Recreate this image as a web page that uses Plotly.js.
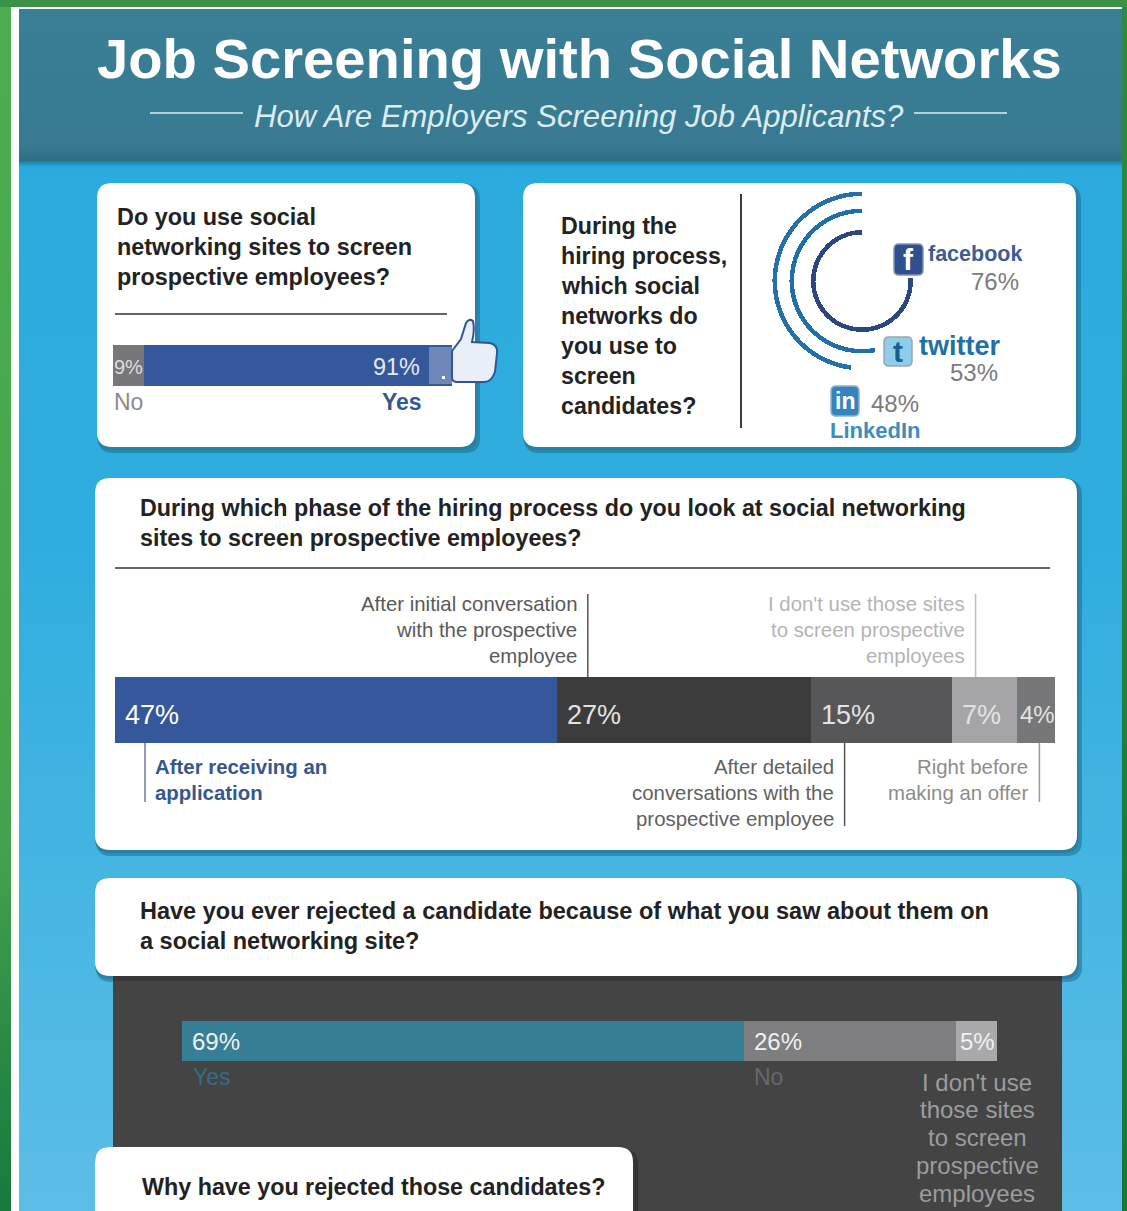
<!DOCTYPE html>
<html>
<head>
<meta charset="utf-8">
<title>Job Screening with Social Networks</title>
<script src="https://cdn.plot.ly/plotly-3.0.1.min.js"></script>
<style>html,body{margin:0;padding:0;background:#2aabdd;overflow:hidden}</style>
</head>
<body>
<div id="chart" style="width:1127px;height:1211px"></div>
<script>
// Survey answers
const useLabels = ['No', 'Yes'];
const useValues = [9, 91];

const networkNames = ['facebook', 'twitter', 'LinkedIn'];
const networkValues = [76, 53, 48];

const phaseLabels = ['After receiving an application', 'After initial conversation', 'After detailed conversations', "I don't use those sites", 'Right before making an offer'];
const phaseValues = [47, 27, 15, 7, 4];

const rejectLabels = ['Yes', 'No', "I don't use those sites"];
const rejectValues = [69, 26, 5];

// Page geometry helpers: pixel positions to paper fractions
const W = 1127, H = 1211;
const px = x => x / W;
const py = y => 1 - y / H;
const BOLD = '"Liberation Sans", Arial, sans-serif';
const cumulative = v => v.map((_, i) => v.slice(0, i).reduce((a, b) => a + b, 0));

const shapes = [];
const annotations = [];

function rect(x0, y0, x1, y1, fill, layer) {
  shapes.push({type: 'rect', xref: 'paper', yref: 'paper', x0: px(x0), x1: px(x1), y0: py(y1), y1: py(y0),
    fillcolor: fill, line: {width: 0}, layer: layer || 'below'});
}
function line(x0, y0, x1, y1, color, width) {
  shapes.push({type: 'line', xref: 'paper', yref: 'paper', x0: px(x0), x1: px(x1), y0: py(y0), y1: py(y1),
    line: {color, width}, layer: 'below'});
}
function pathFrom(points, close) {
  return points.map((p, i) => {
    if (p.length === 2) return (i ? 'L' : 'M') + px(p[0]) + ',' + py(p[1]);
    return 'Q' + px(p[0]) + ',' + py(p[1]) + ' ' + px(p[2]) + ',' + py(p[3]);
  }).join(' ') + (close ? ' Z' : '');
}
function roundRect(x0, y0, x1, y1, r) {
  return pathFrom([[x0 + r, y0], [x1 - r, y0], [x1, y0, x1, y0 + r], [x1, y1 - r], [x1, y1, x1 - r, y1],
    [x0 + r, y1], [x0, y1, x0, y1 - r], [x0, y0 + r], [x0, y0, x0 + r, y0]], true);
}
function cardShadow(x0, y0, x1, y1, soft, hard) {
  const r = 15;
  shapes.push({type: 'path', xref: 'paper', yref: 'paper', path: roundRect(x0 + 1, y0 + 2, x1 + 5, y1 + 6, r),
    fillcolor: soft, line: {width: 0}, layer: 'below'});
  shapes.push({type: 'path', xref: 'paper', yref: 'paper', path: roundRect(x0, y0, x1 + 2, y1 + 3, r),
    fillcolor: hard, line: {width: 0}, layer: 'below'});
}
function cardFace(x0, y0, x1, y1) {
  shapes.push({type: 'path', xref: 'paper', yref: 'paper', path: roundRect(x0, y0, x1, y1, 15),
    fillcolor: '#ffffff', line: {width: 0}, layer: 'below'});
}
function card(x0, y0, x1, y1) {
  cardShadow(x0, y0, x1, y1, 'rgba(20,95,130,0.45)', '#2c7f9e');
  cardFace(x0, y0, x1, y1);
}
function text(str, x, y, size, color, opts) {
  opts = opts || {};
  annotations.push({text: str, xref: 'paper', yref: 'paper', x: px(x), y: py(y), xanchor: opts.anchor || 'left', yanchor: 'middle',
    showarrow: false, borderpad: 0,
    font: {family: opts.family || BOLD, size, color, weight: opts.weight || 400, style: opts.style || 'normal'}});
}
function heading(lines, x, y, step, size) {
  lines.forEach((l, i) => text(l, x, y + i * step, size, '#222222', {weight: 700}));
}

// Backdrop: green page edge, white frame, blue panel and teal banner
const backdrop = `<svg xmlns="http://www.w3.org/2000/svg" width="${W}" height="${H}">
<defs>
<linearGradient id="g" x1="0" y1="0" x2="0" y2="1"><stop offset="0" stop-color="#4cae50"/><stop offset=".7" stop-color="#43a34c"/><stop offset=".85" stop-color="#2c8c46"/><stop offset="1" stop-color="#157a3c"/></linearGradient>
<linearGradient id="r" x1="0" y1="0" x2="0" y2="1"><stop offset="0" stop-color="#2c8c46"/><stop offset="1" stop-color="#17773c"/></linearGradient>
<linearGradient id="b" x1="0" y1="0" x2="0" y2="1"><stop offset="0" stop-color="#29aadd"/><stop offset=".45" stop-color="#2fadde"/><stop offset="1" stop-color="#5cbee6"/></linearGradient>
<linearGradient id="h" x1="0" y1="0" x2="0" y2="1"><stop offset="0" stop-color="#3a7f96"/><stop offset=".9" stop-color="#377a91"/><stop offset="1" stop-color="#2f6f86"/></linearGradient>
<linearGradient id="s" x1="0" y1="0" x2="0" y2="1"><stop offset="0" stop-color="#1f7da6"/><stop offset="1" stop-color="#29aadd"/></linearGradient>
</defs>
<rect width="${W}" height="${H}" fill="url(#r)"/>
<rect width="11" height="${H}" fill="url(#g)"/>
<rect width="${W}" height="7" fill="#3b9246"/>
<rect x="11" y="7" width="1111" height="${H - 7}" fill="#ffffff"/>
<rect x="19" y="9" width="1103" height="${H - 9}" fill="url(#b)"/>
<rect x="19" y="9" width="1103" height="152" fill="url(#h)"/>
<rect x="19" y="161" width="1103" height="6" fill="url(#s)"/>
</svg>`;

// Banner
text('Job Screening with Social Networks', 96, 58, 56.2, '#ffffff', {weight: 700});
text('How Are Employers Screening Job Applicants?', 253, 116, 31.1, '#dcecf1', {style: 'italic'});
line(150, 113, 243, 113, '#dcecf1', 1.5);
line(914, 113, 1007, 113, '#dcecf1', 1.5);

// White cards; the dark panel sits on the fourth card's shadow
card(97, 183, 475, 447);
card(523, 183, 1076, 447);
card(95, 478, 1077, 850);
cardShadow(95, 878, 1077, 976, 'rgba(20,95,130,0.45)', '#2c7f9e');
rect(113, 976, 1062, H, '#444445');
rect(113, 976, 1062, 981, '#39393a');
cardFace(95, 878, 1077, 976);
cardShadow(95, 1147, 633, 1260, 'rgba(30,30,30,0.4)', '#3a3a3b');
cardFace(95, 1147, 633, 1260);

// Card 1: do employers screen at all
heading(['Do you use social', 'networking sites to screen', 'prospective employees?'], 116, 217, 30, 23.4);
line(115, 314, 447, 314, '#666666', 2);

// Card 2: which networks
heading(['During the', 'hiring process,', 'which social', 'networks do', 'you use to', 'screen', 'candidates?'], 560, 226, 30, 23.2);
line(741, 194, 741, 428, '#3a3a3a', 2);

// Card 3 and 4 headings
heading(['During which phase of the hiring process do you look at social networking', 'sites to screen prospective employees?'], 139, 508, 30, 23.3);
line(115, 568, 1050, 568, '#666666', 2);
heading(['Have you ever rejected a candidate because of what you saw about them on', 'a social networking site?'], 139, 911, 30, 23.5);
heading(['Why have you rejected those candidates?'], 141, 1187, 30, 23.3);

// Axis helpers: each stacked bar has its own axis pair spanning a pixel box
const axes = {};
function barAxes(n, x0, x1, y0, y1) {
  const s = n === 1 ? '' : n;
  axes['xaxis' + s] = {domain: [px(x0), px(x1)], range: [0, 100], visible: false, fixedrange: true, anchor: 'y' + s};
  axes['yaxis' + s] = {domain: [py(y1), py(y0)], range: [-0.5, 0.5], visible: false, fixedrange: true, anchor: 'x' + s};
}
barAxes(1, 113, 452, 345, 386);
barAxes(2, 115, 1055, 677, 743);
barAxes(3, 182, 997, 1021, 1061);

const traces = [];
function stackedBar(n, labels, values, colors) {
  const s = n === 1 ? '' : n;
  values.forEach((v, i) => traces.push({type: 'bar', orientation: 'h', name: labels[i], x: [v], y: [0], width: 1,
    xaxis: 'x' + s, yaxis: 'y' + s, marker: {color: colors[i], line: {width: 0}}, hoverinfo: 'name+x', showlegend: false}));
}
// Text tied to a position on a bar's own axis, offset in pixels
function axisText(n, value, shift, str, y, size, color, opts) {
  opts = opts || {};
  annotations.push({text: str, xref: 'x' + (n === 1 ? '' : n), x: value, xshift: shift, yref: 'paper', y: py(y), xanchor: opts.anchor || 'left',
    yanchor: 'middle', showarrow: false, borderpad: 0, font: {family: BOLD, size, color, weight: opts.weight || 400}});
}

// Bar 1
stackedBar(1, useLabels, useValues, ['#77777a', '#35579b']);
const useStart = cumulative(useValues);
axisText(1, useStart[0], 15, useValues[0] + '%', 367, 20, '#dddddd', {anchor: 'center'});
axisText(1, useStart[1] + useValues[1], -31, useValues[1] + '%', 367, 23.4, '#e6e9f2', {anchor: 'right'});
axisText(1, useStart[0], 15, useLabels[0], 402, 23, '#8a8a8a', {anchor: 'center'});
axisText(1, useStart[1] + useValues[1], -29, useLabels[1], 402, 23, '#35578f', {anchor: 'right', weight: 700});

// Thumbs-up badge at the end of the first bar
const sleeve = {type: 'rect', xref: 'paper', yref: 'paper', x0: px(429), x1: px(452), y0: py(384), y1: py(347), fillcolor: '#6f86b9', line: {width: 0}, layer: 'above'};
const thumb = {type: 'path', xref: 'paper', yref: 'paper', layer: 'above', fillcolor: '#e9eff8', line: {color: '#2f5597', width: 2},
  path: pathFrom([[452, 351], [461, 339], [466, 323], [469, 318, 473, 321], [475, 330, 472, 342], [490, 343], [498, 345, 497, 353],
    [495, 372], [491, 383, 483, 382], [456, 382], [452, 381, 452, 378]], true)};
const dot = {type: 'rect', xref: 'paper', yref: 'paper', x0: px(442), x1: px(445), y0: py(379), y1: py(376), fillcolor: '#ffffff', line: {width: 0}, layer: 'above'};

// Bar 2
const phaseColors = ['#35579b', '#3c3c3d', '#57575a', '#a5a5a8', '#77777a'];
stackedBar(2, phaseLabels, phaseValues, phaseColors);
const phaseStart = cumulative(phaseValues);
phaseValues.forEach((v, i) => {
  const smallest = i === phaseValues.length - 1;
  axisText(2, phaseStart[i], smallest ? 2 : 9, v + '%', 715, smallest ? 24 : 27, i === 0 ? '#ffffff' : '#e2e2e2');
});
const phaseNotes = [
  {lines: ['After receiving an', 'application'], lead: 30, top: false, end: 802, color: '#35578f', leader: '#6d7b98', weight: 700},
  {lines: ['After initial conversation', 'with the prospective', 'employee'], lead: 31, top: true, end: 594, color: '#5a5a5a', leader: '#555555'},
  {lines: ['After detailed', 'conversations with the', 'prospective employee'], lead: 34, top: false, end: 826, color: '#616161', leader: '#555555'},
  {lines: ["I don't use those sites", 'to screen prospective', 'employees'], lead: 24, top: true, end: 594, color: '#b4b4b4', leader: '#bcbcbc'},
  {lines: ['Right before', 'making an offer'], lead: 22, top: false, end: 802, color: '#8c8c8c', leader: '#9a9a9a'}
];
phaseNotes.forEach((note, i) => {
  shapes.push({type: 'line', xref: 'x2', xsizemode: 'pixel', xanchor: phaseStart[i], x0: note.lead, x1: note.lead, yref: 'paper',
    y0: py(note.top ? 677 : 743), y1: py(note.end), line: {color: note.leader, width: 1.5}, layer: 'below'});
  note.lines.forEach((l, k) => {
    const y = (note.top ? 604 : 767) + k * 26;
    if (i === 0) axisText(2, phaseStart[i], note.lead + 9, l, y, 20.4, note.color, {weight: note.weight});
    else axisText(2, phaseStart[i], note.lead - 10, l, y, 20.4, note.color, {anchor: 'right'});
  });
});

// Bar 3
stackedBar(3, rejectLabels, rejectValues, ['#367f96', '#7e7e81', '#a9a9ac']);
const rejectStart = cumulative(rejectValues);
rejectValues.forEach((v, i) => axisText(3, rejectStart[i], i === 2 ? 3 : 9, v + '%', 1041, 24, '#f0f0f0'));
axisText(3, rejectStart[0], 10, rejectLabels[0], 1077, 23, '#2f6f84');
axisText(3, rejectStart[1], 9, rejectLabels[1], 1077, 23, '#68686a');
['I don\'t use', 'those sites', 'to screen', 'prospective', 'employees'].forEach((l, k) =>
  axisText(3, rejectStart[2], 21, l, 1082 + k * 27.8, 24, '#9c9c9e', {anchor: 'center'}));

// Concentric arcs: arc length is the share, measured counterclockwise from twelve o'clock
const ringColors = ['#2a4784', '#1f6fa8', '#2370ac'];
const ringBases = [46.5, 68, 85];
const ringThickness = 4.5;
const ringExtent = 95;
networkValues.forEach((v, i) => traces.push({type: 'barpolar', name: networkNames[i], subplot: 'polar',
  r: [ringThickness], base: [ringBases[i]], theta: [v * 3.6 / 2], width: [v * 3.6],
  marker: {color: ringColors[i], line: {width: 0}}, hoverinfo: 'name', showlegend: false}));

// Network badges and labels
function badge(x0, y0, x1, y1, fill, edge, glyph, glyphColor, size) {
  shapes.push({type: 'path', xref: 'paper', yref: 'paper', path: roundRect(x0, y0, x1, y1, 5), fillcolor: fill, line: {color: edge, width: 1.5}, layer: 'above'});
  annotations.push({text: glyph, xref: 'paper', yref: 'paper', x: px((x0 + x1) / 2), y: py((y0 + y1) / 2), xanchor: 'center', yanchor: 'middle', showarrow: false,
    font: {family: BOLD, size, color: glyphColor, weight: 700}});
}
badge(894, 244, 923, 275, '#2f4f8f', '#8093ba', 'f', '#ffffff', 30);
text(networkNames[0], 927, 254, 21.5, '#3b5c96', {weight: 700});
text(networkValues[0] + '%', 1020, 281, 24, '#7b7b7b', {anchor: 'right'});
badge(884, 337, 912, 366, '#8fcdea', '#9aa7ae', 't', '#1c5f8e', 30);
text(networkNames[1], 918, 346, 27, '#1f6fa8', {weight: 700});
text(networkValues[1] + '%', 999, 373, 24, '#7b7b7b', {anchor: 'right'});
badge(831, 386, 859, 416, '#3585bd', '#8eb3cf', 'in', '#ffffff', 23);
text(networkValues[2] + '%', 870, 403, 24, '#7b7b7b');
text(networkNames[2], 829, 431, 22, '#3a8dc0', {weight: 700});

const layout = Object.assign({
  width: W, height: H, margin: {l: 0, r: 0, t: 0, b: 0, pad: 0}, autosize: false,
  paper_bgcolor: 'rgba(0,0,0,0)', plot_bgcolor: 'rgba(0,0,0,0)',
  barmode: 'stack', bargap: 0, showlegend: false,
  images: [{source: 'data:image/svg+xml;charset=utf-8,' + encodeURIComponent(backdrop), xref: 'paper', yref: 'paper',
    x: 0, y: 1, sizex: 1, sizey: 1, sizing: 'stretch', xanchor: 'left', yanchor: 'top', layer: 'below'}],
  shapes: shapes.concat([sleeve, dot, thumb]),
  annotations,
  polar: {
    domain: {x: [px(862 - ringExtent), px(862 + ringExtent)], y: [py(281 + ringExtent), py(281 - ringExtent)]},
    bgcolor: 'rgba(0,0,0,0)', barmode: 'overlay', hole: 0,
    radialaxis: {range: [0, ringExtent], visible: false},
    angularaxis: {visible: false, rotation: 90, direction: 'counterclockwise', thetaunit: 'degrees'}
  }
}, axes);

Plotly.newPlot('chart', traces, layout, {displayModeBar: false, responsive: false});
</script>
</body>
</html>
